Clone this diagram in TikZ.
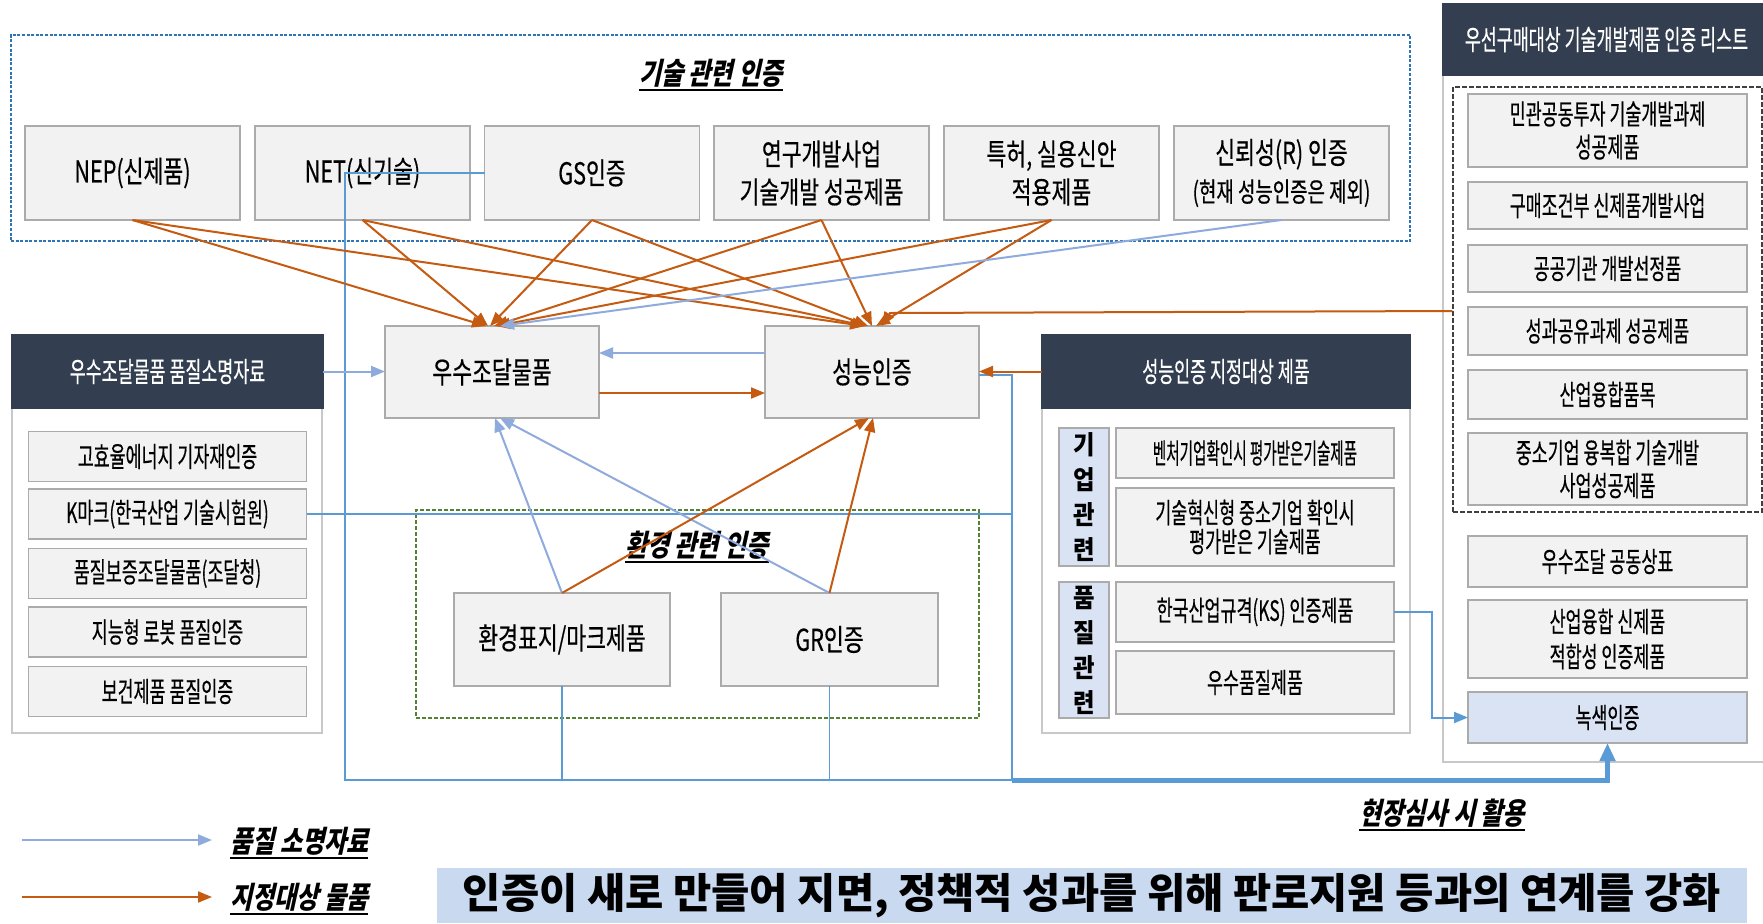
\documentclass[tikz,border=0pt]{standalone}
\usepackage{fontspec}
\usetikzlibrary{arrows.meta,calc}
\setmainfont{Noto Sans CJK KR}
\newfontfamily\fA[FakeStretch=0.72,FakeBold=0.4]{Noto Sans CJK KR}
\newfontfamily\fB[FakeStretch=0.62,FakeBold=0.4]{Noto Sans CJK KR}
\newfontfamily\fC[FakeStretch=0.52,FakeBold=0.4]{Noto Sans CJK KR}
\newfontfamily\fD[FakeStretch=0.7,FakeBold=0.4]{Noto Sans CJK KR}
\newfontfamily\fI[FakeStretch=0.8,FakeSlant=0.22]{Noto Sans CJK KR}
\newfontfamily\fV[FakeStretch=0.9]{Noto Sans CJK KR}
\definecolor{boxfill}{HTML}{F2F2F2}
\definecolor{boxline}{HTML}{ABABAB}
\definecolor{hdr}{HTML}{333F50}
\definecolor{org}{HTML}{C55A11}
\definecolor{lblue}{HTML}{8FAADC}
\definecolor{mblue}{HTML}{5B9BD5}
\definecolor{dblue}{HTML}{2E75B6}
\definecolor{grn}{HTML}{548235}
\definecolor{pale}{HTML}{DAE3F3}
\definecolor{bannerc}{HTML}{C9D9F0}
\definecolor{panel}{HTML}{C8C8C8}
\newcommand\myul[1]{\setbox0=\hbox{#1}\leavevmode\rlap{\rule[-3.5pt]{\wd0}{1pt}}\box0}
\begin{document}
\begin{tikzpicture}[x=0.5pt,y=-0.5pt,
  wh/.style 2 args={minimum width=#1*0.5pt,minimum height=#2*0.5pt},
  gbox/.style={draw=boxline,fill=boxfill,line width=0.9pt,inner sep=0pt,outer sep=0pt,align=center,font=\fA\fontsize{15}{19}\selectfont},
  ibox/.style={gbox,font=\fB\fontsize{14}{16.5}\selectfont},
  hbox/.style={fill=hdr,draw=hdr,line width=0.6pt,text=white,inner sep=0pt,outer sep=0pt,font=\fB\fontsize{14}{17}\selectfont},
  pnl/.style={draw=panel,line width=0.7pt,inner sep=0pt,outer sep=0pt},
  ttl/.style={inner sep=0pt,font=\fI\bfseries\fontsize{15}{18}\selectfont},
  tip/.style={-{Triangle[length=7pt,width=5.5pt]}},
  oar/.style={draw=org,line width=1pt,tip},
  bar/.style={draw=lblue,line width=1pt,tip},
  mln/.style={draw=mblue,line width=0.8pt},
]
\useasboundingbox (0,0) rectangle (1763,923);
\clip (0,0) rectangle (1763,923);
\fill[white] (0,0) rectangle (1763,923);

% ---- technology group
\node[draw=dblue,line width=0.8pt,dash pattern=on 1.5pt off 0.8pt,inner sep=0pt,wh={1399}{206}] (TB) at (710.5,138) {};
\node[ttl] (TT) at (711,75) {\myul{기술 관련 인증}};
\node[gbox,wh={215}{94}] (NEP) at (132.5,173) {NEP(신제품)};
\node[gbox,wh={215}{94}] (NET) at (362.5,173) {NET(신기술)};
\node[gbox,wh={215}{94}] (GS) at (592,173) {GS인증};
\node[gbox,wh={215}{94}] (YG) at (821.5,173) {연구개발사업\\기술개발 성공제품};
\node[gbox,wh={215}{94}] (PT) at (1051.5,173) {특허, 실용신안\\적용제품};
\node[gbox,wh={215}{94}] (RL) at (1281.5,173) {신뢰성(R) 인증\\{\fD\fontsize{13.5}{15}\selectfont (현재 성능인증은 제외)}};

% ---- centre
\node[gbox,wh={214}{92}] (US) at (492,372) {우수조달물품};
\node[gbox,wh={214}{92}] (SN) at (872,372) {성능인증};

% ---- left panel
\node[pnl,wh={310}{325}] (LP) at (167,570.5) {};
\node[hbox,wh={311}{73}] (LH) at (167.5,371.5) {우수조달물품 품질소명자료};
\node[ibox,wh={278}{50}] (L1) at (167.5,456.5) {고효율에너지 기자재인증};
\node[ibox,wh={278}{50}] (L2) at (167.5,514) {K마크(한국산업 기술시험원)};
\node[ibox,wh={278}{50}] (L3) at (167.5,573.5) {품질보증조달물품(조달청)};
\node[ibox,wh={278}{50}] (L4) at (167.5,632) {지능형 로봇 품질인증};
\node[ibox,wh={278}{50}] (L5) at (167.5,691.5) {보건제품 품질인증};

% ---- environment group
\node[draw=grn,line width=0.8pt,dash pattern=on 2pt off 1pt,inner sep=0pt,wh={563}{208}] (ENV) at (697.5,614) {};
\node[ttl] (ET) at (697,547) {\myul{환경 관련 인증}};
\node[gbox,wh={216}{93}] (EM) at (562,639.5) {환경표지/마크제품};
\node[gbox,wh={217}{93}] (GR) at (829.5,639.5) {GR인증};

% ---- middle-right panel
\node[pnl,wh={368}{325}] (MP) at (1226,570.5) {};
\node[hbox,wh={368}{73}] (MH) at (1226,371.5) {성능인증 지정대상 제품};
\node[gbox,fill=pale,wh={50}{138},font=\fV\bfseries\fontsize{13}{17.5}\selectfont] (V1) at (1084,497) {기\\업\\관\\련};
\node[gbox,fill=pale,wh={50}{136},font=\fV\bfseries\fontsize{13}{17.5}\selectfont] (V2) at (1084,650) {품\\질\\관\\련};
\node[ibox,wh={278}{50},font=\fC\fontsize{14}{16}\selectfont] (M1) at (1255,453) {벤처기업확인시 평가받은기술제품};
\node[ibox,wh={278}{78},font=\fB\fontsize{14}{14.5}\selectfont] (M2) at (1255,527) {기술혁신형 중소기업 확인시\\평가받은 기술제품};
\node[ibox,wh={278}{60}] (M3) at (1255,612) {한국산업규격(KS) 인증제품};
\node[ibox,wh={278}{63}] (M4) at (1255,682.5) {우수품질제품};

% ---- right panel
\node[pnl,wh={327}{687}] (RP) at (1606.5,418.5) {};
\node[hbox,wh={327}{71}] (RH) at (1606.5,39.5) {우선구매대상 기술개발제품 인증 리스트};
\node[draw=black!75,line width=0.7pt,dash pattern=on 2.5pt off 1pt,inner sep=0pt,wh={309}{425}] (RD) at (1607.5,299.5) {};
\node[ibox,wh={279}{73}] (R1) at (1607.5,130.5) {민관공동투자 기술개발과제\\성공제품};
\node[ibox,wh={279}{47}] (R2) at (1607.5,205.5) {구매조건부 신제품개발사업};
\node[ibox,wh={279}{47}] (R3) at (1607.5,268.5) {공공기관 개발선정품};
\node[ibox,wh={279}{48}] (R4) at (1607.5,331) {성과공유과제 성공제품};
\node[ibox,wh={279}{49}] (R5) at (1607.5,394.5) {산업융합품목};
\node[ibox,wh={279}{72}] (R6) at (1607.5,469) {중소기업 융복합 기술개발\\사업성공제품};
\node[ibox,wh={279}{51}] (R7) at (1607.5,561.5) {우수조달 공동상표};
\node[ibox,wh={279}{78},font=\fB\fontsize{14}{17.5}\selectfont] (R8) at (1607.5,639) {산업융합 신제품\\적합성 인증제품};
\node[ibox,fill=pale,wh={279}{51}] (GN) at (1607.5,717.5) {녹색인증};

% ---- notes, legend, banner
\node[ttl] (NT) at (1442,815) {\myul{현장심사 시 활용}};
\coordinate (LB1) at (22,840); \coordinate (LB2) at (212,840);
\coordinate (LO1) at (22,897); \coordinate (LO2) at (212,897);
\node[ttl,anchor=west] (LT1) at (230,843) {\myul{품질 소명자료}};
\node[ttl,anchor=west] (LT2) at (230,899) {\myul{지정대상 물품}};
\node[fill=bannerc,inner sep=0pt,wh={1310}{55},font=\bfseries\fontsize{20.8}{22}\selectfont] (BN) at (1092,895.5) {인증이 새로 만들어 지면, 정책적 성과를 위해 판로지원 등과의 연계를 강화};

% ---- blue network (현장심사)
\coordinate (J1) at (345,172);
\coordinate (J2) at (345,780);
\coordinate (J3) at (1012,780);
\coordinate (K1) at (1432,612);
\draw[mln] (GS.west) -- (GS.west -| J1) -- (J2) -- (J3);
\draw[mln] (EM.south) -- (EM.south |- J2);
\draw[mln] (GR.south) -- (GR.south |- J2);
\draw[mln] (L2.east) -- (L2.east -| J3);
\draw[mln] ($(SN.east)+(0,3)$) -- ($(SN.east -| J3)+(0,3)$) -- (J3);
\draw[mln,line width=2.5pt,-{Triangle[length=9pt,width=7.5pt]}] (J3) -- (J3 -| GN) -- (GN.south);
\draw[mln,line width=1pt,tip] (M3.east) -- (M3.east -| K1) -- (K1 |- GN.west) -- (GN.west);

% ---- orange / light blue arrows
\foreach \s/\dx in {NEP/-6,NET/-4,GS/-2,YG/2,PT/4}
  \draw[oar] (\s.south) -- ($(US.north)+(\dx,0)$);
\foreach \s/\dx in {NEP/-8,NET/-6,GS/-4,YG/0,PT/4}
  \draw[oar] (\s.south) -- ($(SN.north)+(\dx,0)$);
\draw[bar] (RL.south) -- ($(US.north)+(8,0)$);
\draw[oar] ($(RD.west)+(0,11.5)$) -- (890,313) -- ($(SN.north)+(10,0)$);
\draw[oar] ($(US.east)+(0,21)$) -- ($(SN.west)+(0,21)$);
\draw[bar] ($(SN.west)+(0,-19)$) -- ($(US.east)+(0,-19)$);
\draw[bar] (LH.east) -- (LH.east -| US.west);
\draw[oar] (MH.west) -- (MH.west -| SN.east);
\draw[bar] (EM.north) -- ($(US.south)+(3,0)$);
\draw[bar] (GR.north) -- ($(US.south)+(8,0)$);
\draw[oar] (EM.north) -- ($(SN.south)+(-3,0)$);
\draw[oar] (GR.north) -- ($(SN.south)+(1,0)$);
\draw[bar] (LB1) -- (LB2);
\draw[oar] (LO1) -- (LO2);
\end{tikzpicture}
\end{document}
